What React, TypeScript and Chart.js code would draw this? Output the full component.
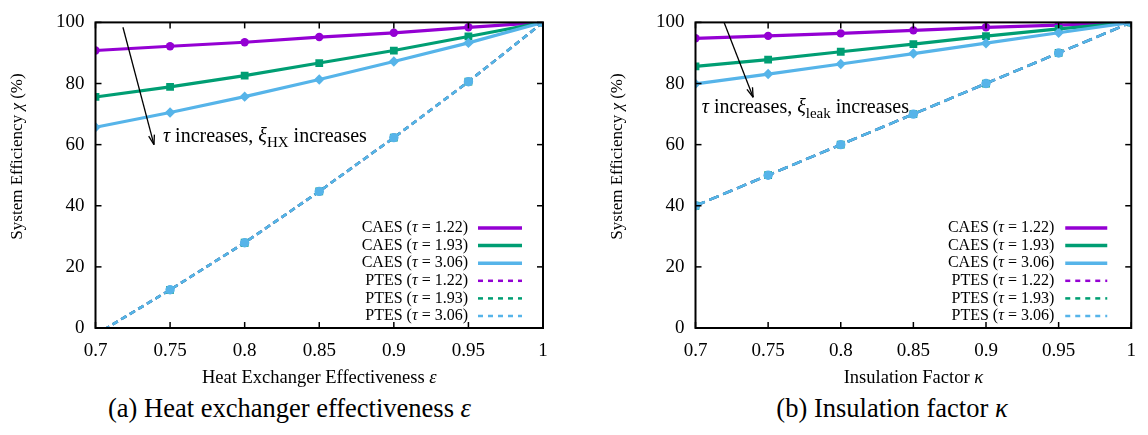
import React, { useEffect, useRef } from "react";
import { Chart, registerables } from "chart.js";

Chart.register(...registerables);

const FONT = '"Liberation Serif", "Times New Roman", serif';

// ---------- DATA ----------
const xValues = [0.7, 0.75, 0.8, 0.85, 0.9, 0.95, 1.0];
const xTicks = [0.7, 0.75, 0.8, 0.85, 0.9, 0.95, 1.0];
const yTicks = [0, 20, 40, 60, 80, 100];

const seriesLabels = [
  "CAES (τ = 1.22)",
  "CAES (τ = 1.93)",
  "CAES (τ = 3.06)",
  "PTES (τ = 1.22)",
  "PTES (τ = 1.93)",
  "PTES (τ = 3.06)",
];

// (a) Heat exchanger effectiveness
const hxCaes122 = [90.8, 92.2, 93.5, 95.2, 96.6, 98.4, 100];
const hxCaes193 = [75.6, 78.9, 82.6, 86.7, 90.8, 95.4, 100];
const hxCaes306 = [65.7, 70.5, 75.7, 81.3, 87.2, 93.3, 100];
const hxPtes122 = [-2.2, 12.5, 27.9, 44.7, 62.3, 80.6, 100];
const hxPtes193 = [-2.2, 12.5, 27.9, 44.7, 62.3, 80.6, 100];
const hxPtes306 = [-2.2, 12.5, 27.9, 44.7, 62.3, 80.6, 100];

// (b) Insulation factor
const insCaes122 = [94.8, 95.6, 96.4, 97.4, 98.4, 99.1, 100];
const insCaes193 = [85.6, 87.8, 90.4, 92.9, 95.5, 97.9, 100];
const insCaes306 = [79.9, 83.1, 86.4, 89.8, 93.2, 96.6, 100];
const insPtes122 = [40, 50, 60, 70, 80, 90, 100];
const insPtes193 = [40, 50, 60, 70, 80, 90, 100];
const insPtes306 = [40, 50, 60, 70, 80, 90, 100];

// ---------- STYLES ----------
const PURPLE = "#9400d3";
const GREEN = "#009e73";
const BLUE = "#56b4e9";

const toPts = (ys: number[]) => xValues.map((x, i) => ({ x, y: ys[i] }));

function makeDatasets(series: number[][], dash: number[]) {
  const colors = [PURPLE, GREEN, BLUE, PURPLE, GREEN, BLUE];
  const styles = ["circle", "rect", "rectRot", "circle", "rect", "circle"];
  const radii = [4.2, 5.5, 5.2, 4, 5.5, 4.7];
  return series.map((s, i) => {
    const ptes = i >= 3;
    const r = radii[i];
    return {
      label: seriesLabels[i],
      data: toPts(s),
      borderColor: colors[i],
      backgroundColor: colors[i],
      borderWidth: ptes ? 2.5 : 3.2,
      borderDash: ptes ? dash : [],
      pointStyle: styles[i],
      pointRadius: (c: any) => (c.raw && c.raw.y < 0 ? 0 : r),
      pointBorderWidth: 0,
      pointHoverRadius: r,
      tension: 0,
      order: 10 - i,
    };
  });
}

type Piece = [string, boolean];

function measurePieces(ctx: CanvasRenderingContext2D, pieces: Piece[], size: number) {
  let total = 0;
  for (const [s, it] of pieces) {
    ctx.font = `${it ? "italic " : ""}${size}px ${FONT}`;
    total += ctx.measureText(s).width;
  }
  return total;
}

function drawPiecesFrom(ctx: CanvasRenderingContext2D, pieces: Piece[], size: number, x0: number, cy: number) {
  let x = x0;
  ctx.textAlign = "left";
  for (const [s, it] of pieces) {
    ctx.font = `${it ? "italic " : ""}${size}px ${FONT}`;
    ctx.fillText(s, x, cy);
    x += ctx.measureText(s).width;
  }
}

function drawPieces(ctx: CanvasRenderingContext2D, pieces: Piece[], size: number, cx: number, cy: number) {
  const total = measurePieces(ctx, pieces, size);
  drawPiecesFrom(ctx, pieces, size, cx - total / 2, cy);
}

function labelPieces(label: string): Piece[] {
  const out: Piece[] = [];
  const parts = label.split("τ");
  parts.forEach((p, i) => {
    if (i > 0) out.push(["τ", true]);
    if (p) out.push([p, false]);
  });
  return out;
}

const decorPlugin = {
  id: "decor",
  afterDraw(chart: any, _args: any, opts: any) {
    const ctx = chart.ctx as CanvasRenderingContext2D;
    const { left, right, top, bottom } = chart.chartArea;
    const xs = chart.scales.x;
    const ys = chart.scales.y;
    ctx.save();
    ctx.strokeStyle = "#000";
    ctx.lineWidth = 1.5;
    const line = (x1: number, y1: number, x2: number, y2: number) => {
      ctx.beginPath();
      ctx.moveTo(x1, y1);
      ctx.lineTo(x2, y2);
      ctx.stroke();
    };
    for (const v of xTicks) {
      const px = xs.getPixelForValue(v);
      line(px, bottom, px, bottom - 6);
      line(px, top, px, top + 6);
    }
    for (const v of yTicks) {
      const py = ys.getPixelForValue(v);
      line(left, py, left + 6, py);
      line(right, py, right - 6, py);
    }

    ctx.fillStyle = "#000";

    // y axis title
    ctx.save();
    ctx.textBaseline = "middle";
    ctx.translate(opts.yTitleX, 156.5);
    ctx.rotate(-Math.PI / 2);
    drawPieces(ctx, [["System Efficiency ", false], ["χ", true], [" (%)", false]], 17, 0, 0);
    ctx.restore();

    // x axis title
    ctx.textBaseline = "alphabetic";
    drawPieces(ctx, opts.xTitle, 18.5, (left + right) / 2, 382.5);

    // legend
    ctx.textBaseline = "middle";
    chart.data.datasets.forEach((ds: any, i: number) => {
      const y = bottom - 100 + i * 17.6;
      const pcs = labelPieces(ds.label);
      const w = measurePieces(ctx, pcs, 16);
      drawPiecesFrom(ctx, pcs, 16, right - opts.legendText - w, y);
      ctx.save();
      ctx.strokeStyle = ds.borderColor;
      ctx.lineWidth = ds.borderDash.length ? 2.5 : 3.5;
      ctx.setLineDash(ds.borderDash.length ? [5, 5] : []);
      line(right - opts.legendS1, y, right - opts.legendS2, y);
      ctx.restore();
    });

    // annotation arrow
    const a = opts.arrow;
    const x1 = xs.getPixelForValue(a[0]);
    const y1 = ys.getPixelForValue(a[1]);
    const x2 = xs.getPixelForValue(a[2]);
    const y2 = ys.getPixelForValue(a[3]);
    ctx.lineWidth = 1.3;
    line(x1, y1, x2, y2);
    const ang = Math.atan2(y2 - y1, x2 - x1);
    const hl = 10;
    line(x2, y2, x2 - hl * Math.cos(ang - 0.3), y2 - hl * Math.sin(ang - 0.3));
    line(x2, y2, x2 - hl * Math.cos(ang + 0.3), y2 - hl * Math.sin(ang + 0.3));

    // annotation text
    let tx = xs.getPixelForValue(opts.text[0]);
    const ty = ys.getPixelForValue(opts.text[1]);
    ctx.textAlign = "left";
    ctx.textBaseline = "alphabetic";
    const part = (s: string, font: string, dy = 0) => {
      ctx.font = font;
      ctx.fillText(s, tx, ty + dy);
      tx += ctx.measureText(s).width;
    };
    part("τ", `italic 20px ${FONT}`);
    part(" increases, ", `20px ${FONT}`);
    part("ξ", `italic 20px ${FONT}`);
    part(opts.sub, `15px ${FONT}`, 5);
    part(" increases", `20px ${FONT}`);

    // frame
    ctx.lineWidth = 2;
    ctx.strokeRect(left, top, right - left, bottom - top);
    ctx.restore();
  },
};

type PanelProps = {
  series: number[][];
  dash: number[];
  xTitle: Piece[];
  yAxisWidth: number;
  yTitleX: number;
  padRight: number;
  legendText: number;
  legendS1: number;
  legendS2: number;
  arrow: number[];
  text: number[];
  sub: string;
};

function Panel(p: PanelProps) {
  const ref = useRef<HTMLCanvasElement | null>(null);
  useEffect(() => {
    if (!ref.current) return;
    const chart = new Chart(ref.current, {
      type: "line",
      data: { datasets: makeDatasets(p.series, p.dash) as any },
      plugins: [decorPlugin],
      options: {
        responsive: false,
        animation: false,
        events: [],
        layout: { padding: { left: 0, right: p.padRight, top: 10, bottom: 0 } },
        plugins: {
          legend: { display: false },
          tooltip: { enabled: false },
          decor: {
            legendText: p.legendText,
            legendS1: p.legendS1,
            legendS2: p.legendS2,
            arrow: p.arrow,
            text: p.text,
            sub: p.sub,
            yTitleX: p.yTitleX,
            xTitle: p.xTitle,
          },
        } as any,
        scales: {
          x: {
            type: "linear",
            min: 0.7,
            max: 1,
            grid: { display: false, drawTicks: false },
            border: { display: false },
            afterBuildTicks: (s: any) => {
              s.ticks = xTicks.map((v) => ({ value: v }));
            },
            afterFit: (s: any) => {
              s.height = 62;
            },
            ticks: {
              color: "#000",
              font: { family: FONT, size: 19 },
              padding: 12,
              maxRotation: 0,
              autoSkip: false,
              callback: (v: any) => String(Math.round(Number(v) * 100) / 100),
            },
            title: { display: false },
          },
          y: {
            type: "linear",
            min: 0,
            max: 100,
            grid: { display: false, drawTicks: false },
            border: { display: false },
            afterBuildTicks: (s: any) => {
              s.ticks = yTicks.map((v) => ({ value: v }));
            },
            afterFit: (s: any) => {
              s.width = p.yAxisWidth;
            },
            ticks: {
              color: "#000",
              font: { family: FONT, size: 19 },
              padding: 11,
            },
            title: { display: false },
          },
        },
      } as any,
    });
    return () => chart.destroy();
  }, []);
  return <canvas ref={ref} width={570} height={390} style={{ display: "block" }} />;
}

export default function App() {
  useEffect(() => {
    document.body.style.margin = "0";
  }, []);
  const caption: React.CSSProperties = {
    position: "absolute",
    top: 392,
    fontFamily: FONT,
    fontSize: 26.5,
    color: "#000",
    whiteSpace: "nowrap",
    transform: "translateX(-50%)",
    lineHeight: "32px",
  };
  return (
    <div style={{ position: "absolute", left: 0, top: 0, width: 1148, height: 435, background: "#fff", overflow: "hidden" }}>
      <div style={{ position: "absolute", left: 0, top: 0 }}>
        <Panel
          series={[hxCaes122, hxCaes193, hxCaes306, hxPtes122, hxPtes193, hxPtes306]}
          dash={[6, 4]}
          xTitle={[["Heat Exchanger Effectiveness ", false], ["ε", true]]}
          yAxisWidth={95.5}
          yTitleX={18}
          padRight={27}
          legendText={75}
          legendS1={65}
          legendS2={21}
          arrow={[0.7184, 98.4, 0.7392, 60]}
          text={[0.7452, 60.9]}
          sub="HX"
        />
      </div>
      <div style={{ position: "absolute", left: 578, top: 0 }}>
        <Panel
          series={[insCaes122, insCaes193, insCaes306, insPtes122, insPtes193, insPtes306]}
          dash={[10, 5]}
          xTitle={[["Insulation Factor ", false], ["κ", true]]}
          yAxisWidth={117.5}
          yTitleX={40}
          padRight={3}
          legendText={77}
          legendS1={66}
          legendS2={24}
          arrow={[0.7197, 100, 0.7397, 75.5]}
          text={[0.7043, 70.3]}
          sub="leak"
        />
      </div>
      <div style={{ ...caption, left: 289.5 }}>
        (a) Heat exchanger effectiveness <i>ε</i>
      </div>
      <div style={{ ...caption, left: 892 }}>
        (b) Insulation factor <i>κ</i>
      </div>
    </div>
  );
}
